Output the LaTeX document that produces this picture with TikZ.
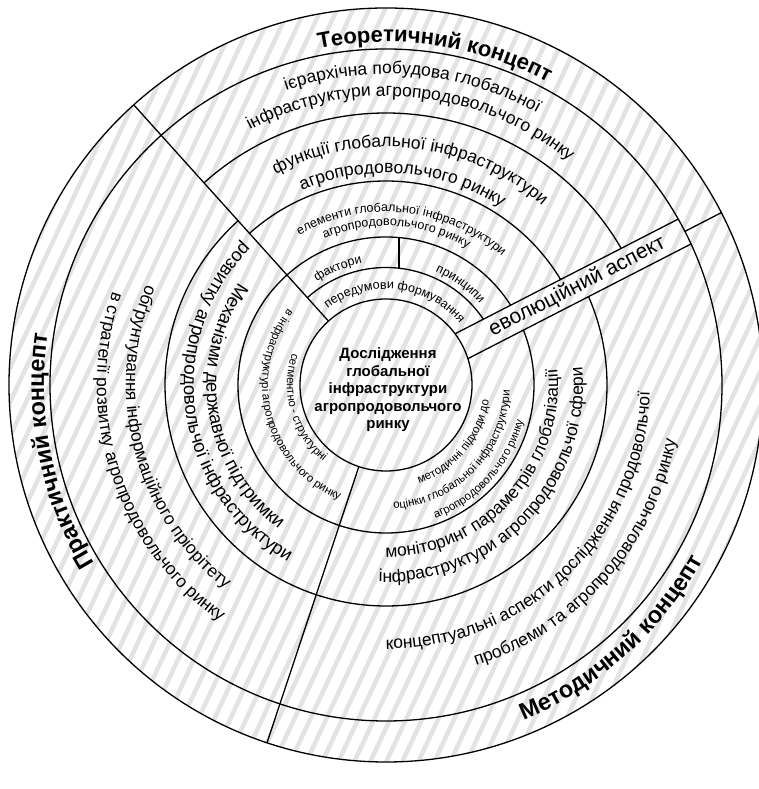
\documentclass[tikz,border=0pt]{standalone}
\usepackage{fontspec}
\setmainfont{Liberation Sans}
\usetikzlibrary{decorations.text}
\tikzset{
  ring/.style={line width=1.3pt, draw=black},
  hatch/.style={line width=4.5pt, draw=black!11},
}
\newcommand{\szTitle}{\bfseries\fontsize{22}{22}\selectfont}
\newcommand{\szTitleB}{\bfseries\fontsize{23.5}{23.5}\selectfont}
\newcommand{\szMid}{\fontsize{17.5}{17.5}\selectfont}
\newcommand{\szBig}{\fontsize{18.5}{18.5}\selectfont}
\newcommand{\szSmall}{\fontsize{12.5}{12.5}\selectfont}
\newcommand{\szTiny}{\fontsize{11.5}{11.5}\selectfont}
% text along an arc, clockwise (tops outward)
\newcommand{\ArcCW}[4]{\path[decorate,decoration={text along path,text align=center,text={|#3|#4}}] ({#2+88}:#1) arc[start angle={#2+88}, end angle={#2-88}, radius=#1];}
% text along an arc, counter-clockwise (tops inward)
\newcommand{\ArcCCW}[4]{\path[decorate,decoration={text along path,text align=center,text={|#3|#4}}] ({#2-88}:#1) arc[start angle={#2-88}, end angle={#2+88}, radius=#1];}
\begin{document}
\begin{tikzpicture}[x=1pt,y=1pt]
\useasboundingbox (0,0) rectangle (758,789);
\begin{scope}[shift={(386,404)}]
  % hatching
  \begin{scope}
    \clip (0,0) circle[radius=377];
    \begin{scope}[rotate=65]
      \foreach \i in {-28,...,28} \draw[hatch] (-400,\i*14.5) -- (400,\i*14.5);
    \end{scope}
  \end{scope}
  % circles
  \draw[ring] (0,0) circle[radius=86];
  \draw[ring] (0,0) circle[radius=336];
  \draw[ring] (0,0) circle[radius=377];
  \draw[ring] (34.04:117.5) arc[start angle=34.04,end angle=132,radius=117.5];
  \draw[ring] (32.63:148) arc[start angle=32.63,end angle=381.77,radius=148];
  \draw[ring] (31.14:204) arc[start angle=31.14,end angle=132,radius=204];
  \draw[ring] (132:221) arc[start angle=132,end angle=383.57,radius=221];
  \draw[ring] (30.15:272) arc[start angle=30.15,end angle=132,radius=272];
  % dividers
  \draw[ring] (132:86) -- (132:377);
  \draw[ring] (251.6:86) -- (251.6:377);
  \draw[ring] (27.2:336) -- (27.2:377);
  \draw[ring] (13,116.8) -- (13,147.4);
  \begin{scope}[rotate=27.2]
    \draw[ring] (84.85,14) -- (335.7,14);
    \draw[ring] (84.85,-14) -- (335.7,-14);
    \node[font=\fontsize{21}{21}\selectfont, anchor=base, inner sep=0pt, rotate=27.2] (evol) at (215,-5.5) {еволюційний аспект};
  \end{scope}
  % centre
  \node[align=center, font=\bfseries\fontsize{15}{17.5}\selectfont, inner sep=0pt] (core) at (2,-5)
    {Дослідження\\глобальної\\інфраструктури\\агропродовольчого\\ринку};
  % top sector
  \ArcCW{343}{81.6}{\szTitle}{Теоретичний концепт}
  \ArcCW{311}{84.8}{\szMid}{ієрархічна побудова глобальної}
  \ArcCW{289}{84.4}{\szMid}{інфраструктури агропродовольчого ринку}
  \ArcCW{238}{83.3}{\szMid}{функції глобальної інфраструктури}
  \ArcCW{212}{85.2}{\szMid}{агропродовольчого ринку}
  \ArcCW{173}{84}{\szSmall}{елементи глобальної інфраструктури}
  \ArcCW{159}{86}{\szSmall}{агропродовольчого ринку}
  \ArcCW{124}{112.5}{\szSmall}{фактори}
  \ArcCW{124}{53.7}{\szSmall}{принципи}
  \ArcCW{96}{83.5}{\szSmall}{передумови формування}
  % left sector
  \ArcCW{342}{191.5}{\szTitleB}{Практичний концепт}
  \ArcCCW{260}{194.5}{\szMid}{обґрунтування інформаційного пріорітету}
  \ArcCCW{289}{198}{\szMid}{в стратегії розвитку агропродовольчого ринку}
  \ArcCCW{179.5}{189.2}{\szBig}{Механізми державної підтримки}
  \ArcCCW{202}{187.9}{\szBig}{розвитку агропродовольчої інфраструктури}
  \ArcCCW{99}{196}{\szTiny}{сегментно - структурні}
  \ArcCCW{124}{195}{\szTiny}{в інфраструктурі агропродовольчого ринку}
  % right sector
  \ArcCCW{362}{-48.3}{\szTitleB}{Методичний концепт}
  \ArcCCW{264}{-45.8}{\szMid}{концептуальні аспекти дослідження продовольчої}
  \ArcCCW{295}{-41.5}{\szMid}{проблеми та агропродовольчого ринку}
  \ArcCCW{172}{-42.4}{\szMid}{моніторинг параметрів глобалізації}
  \ArcCCW{197}{-43.4}{\szMid}{інфраструктури агропродовольчої сфери}
  \ArcCCW{104}{-40}{\szTiny}{методичні підходи до}
  \ArcCCW{124}{-44.5}{\szTiny}{оцінки глобальної інфраструктури}
  \ArcCCW{142}{-42.1}{\szTiny}{агропродовольчого ринку}
\end{scope}
\end{tikzpicture}
\end{document}
